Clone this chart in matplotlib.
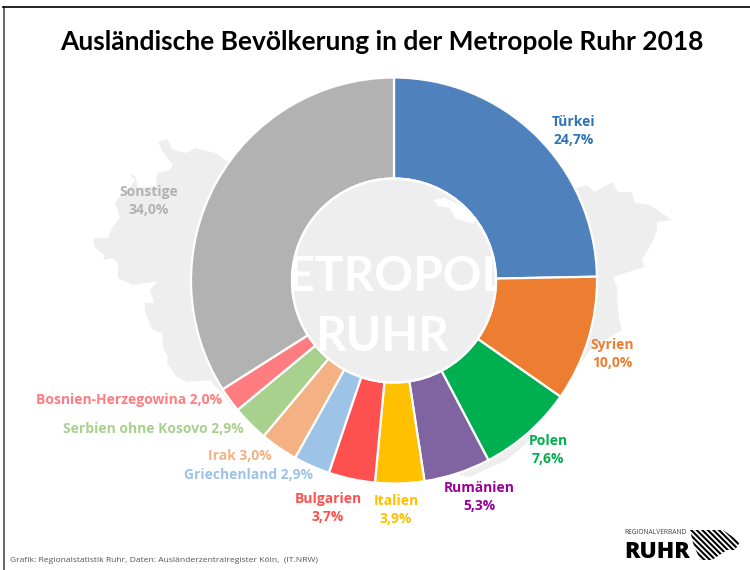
import matplotlib
matplotlib.use('Agg')
import matplotlib.pyplot as plt
from matplotlib.patches import Polygon, Circle

plt.rcParams['font.family'] = ['Open Sans', 'DejaVu Sans']
plt.rcParams['hatch.linewidth'] = 1.5

# Data
categories = ['Türkei', 'Syrien', 'Polen', 'Rumänien', 'Italien', 'Bulgarien', 'Griechenland',
              'Irak', 'Serbien ohne Kosovo', 'Bosnien-Herzegowina', 'Sonstige']
shares = [24.7, 10.0, 7.6, 5.3, 3.9, 3.7, 2.9, 3.0, 2.9, 2.0, 34.0]
colors = ['#4F81BD', '#ED7D31', '#00B050', '#8064A2', '#FFC000', '#FF5050', '#9DC3E6',
          '#F4B183', '#A9D18E', '#FF7C80', '#B2B2B2']
label_colors = ['#2E75B6', '#ED7D31', '#00B050', '#990099', '#FFC000', '#FF5050', '#9DC3E6',
                '#F4B183', '#A9D18E', '#FF7C80', '#B2B2B2']

# Label anchors in picture pixels (x, y, one or two lines)
label_pos = [(574, 131, False), (612, 354, False), (548, 450, False), (479, 497, False),
             (396, 510, False), (328, 508, False), (249, 475, True), (240, 456, True),
             (153, 429, True), (129, 400, True), (149, 201, False)]

# Silhouette of the region behind the chart, picture pixels
region_outline = [(158, 142), (167, 139), (173, 150), (187, 153), (195, 148), (215, 153), (240, 170), (394, 110),
                  (578, 188), (587, 185), (595, 192), (612, 182), (618, 192), (632, 192), (635, 203),
                  (650, 205), (672, 220), (657, 222), (657, 230), (652, 243), (642, 260), (644, 267),
                  (613, 277), (618, 290), (617, 298), (619, 317), (622, 330), (610, 337), (590, 350),
                  (540, 420), (527, 443), (507, 460), (480, 472), (470, 477), (440, 470), (300, 440),
                  (238, 410), (233, 408), (222, 393), (210, 380), (187, 382), (177, 377), (167, 363),
                  (168, 357), (163, 347), (162, 333), (153, 330), (145, 312), (145, 303), (154, 303),
                  (150, 290), (158, 281), (133, 285), (118, 278), (118, 263), (113, 258), (103, 260),
                  (105, 255), (95, 248), (93, 238), (108, 238), (112, 228), (120, 217), (115, 203),
                  (122, 193), (130, 187), (135, 180), (128, 173), (135, 176), (138, 187), (156, 187),
                  (157, 173), (170, 170), (173, 165), (163, 152)]
hole_notch = [(433, 200), (445, 198), (480, 215), (473, 224), (455, 218), (450, 208), (438, 206)]
logo_outline = [(690, 530), (723, 530), (740, 542), (735, 550), (727, 550), (712, 560), (700, 560), (693, 543)]

H = 570


def py(y):
    return H - y


def to_xy(points):
    return [(x, py(y)) for x, y in points]


fig = plt.figure(figsize=(7.5, 5.7), dpi=100)
ax = fig.add_axes([0, 0, 1, 1])

# Background shape and centre lettering
ax.add_patch(Polygon(to_xy(region_outline), closed=True, fc='#EEEEEE', ec='none', zorder=0))
ax.add_patch(Polygon(to_xy(hole_notch), closed=True, fc='white', ec='none', zorder=0.5))
ax.text(388, py(277), 'METROPOLE', color='white', fontsize=34.5, fontweight='bold', family='Lato',
        ha='center', va='center', zorder=0.7)
ax.text(382, py(337), 'RUHR', color='white', fontsize=34.5, fontweight='bold', family='Lato',
        ha='center', va='center', zorder=0.7)

# Donut
ax.pie(shares, colors=colors, startangle=90, counterclock=False, center=(394, py(280.5)), radius=203,
       wedgeprops=dict(width=101, edgecolor='white', linewidth=1.6, zorder=2))
ax.add_patch(Circle((394, py(280.5)), 102, fc='none', ec='white', lw=1.6, zorder=3))

ax.set_xlim(0, 750)
ax.set_ylim(0, H)
ax.set_aspect('equal')
ax.axis('off')

# Labels
for name, share, col, (x, y, one_line) in zip(categories, shares, label_colors, label_pos):
    value = f'{share:.1f}%'.replace('.', ',')
    sep = ' ' if one_line else '\n'
    ax.text(x, py(y), f'{name}{sep}{value}', color=col, fontsize=10, fontweight='bold',
            ha='center', va='center', linespacing=1.3, zorder=4)

# Title and source
ax.text(381.5, py(42), 'Ausländische Bevölkerung in der Metropole Ruhr 2018', fontsize=19,
        fontweight='bold', family='Lato', color='black', ha='center', va='center')
ax.text(10, py(561), 'Grafik: Regionalstatistik Ruhr, Daten: Ausländerzentralregister Köln,  (IT.NRW)',
        fontsize=6.1, color='#555555', ha='left', va='center')

# Logo
ax.text(624, py(533), 'REGIONALVERBAND', fontsize=4.8, color='#444444', ha='left', va='center')
ax.text(624, py(552), 'RUHR', fontsize=16.5, fontweight='heavy', color='black', ha='left', va='center')
ax.add_patch(Polygon(to_xy(logo_outline), closed=True, fc='white', ec='black', lw=0,
                     hatch='\\\\\\\\\\\\'))

# Frame
ax.plot([3.5, 3.5], [py(7), py(570)], color='#666666', lw=1.4, clip_on=False)
ax.plot([3, 750], [py(7), py(7)], color='black', lw=1.2, clip_on=False)

fig.savefig('out.png', dpi=100)
